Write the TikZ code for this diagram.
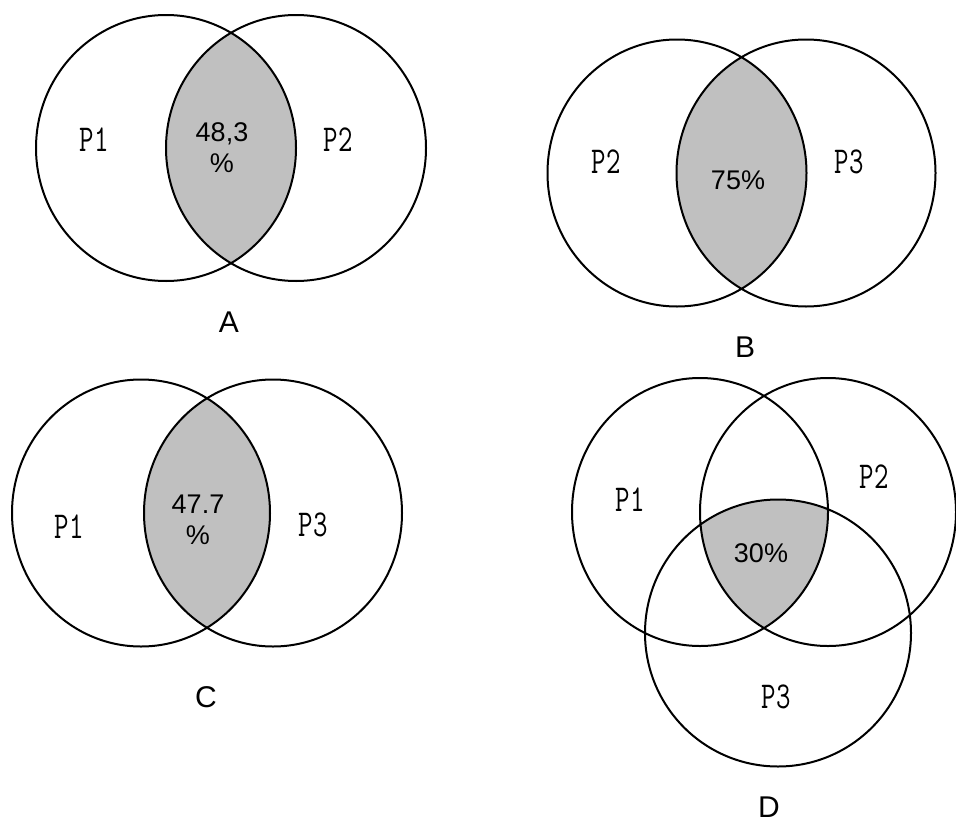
\documentclass[tikz,border=0pt]{standalone}
\usepackage{fontspec}
\setmainfont{Liberation Sans}
\usepackage{graphicx}
\definecolor{lens}{HTML}{C0C0C0}
\newcommand{\pset}[1]{\scalebox{0.74}[1]{#1}}

\begin{document}
\begin{tikzpicture}[x=1pt,y=-1pt]
    \tikzset{ring/.style={draw=black,line width=2pt}, pname/.style={font=\ttfamily\fontsize{38}{38}\selectfont,inner sep=0pt}, pct/.style={font=\fontsize{27}{31}\selectfont,align=center,inner sep=0pt}, ttl/.style={font=\fontsize{30}{30}\selectfont,inner sep=0pt}}
    \useasboundingbox (0,0) rectangle (956,827);
    % shaded overlaps
    \begin{scope} \clip (166,148) ellipse (130 and 133); \fill[lens] (296,148) ellipse (130 and 133); \end{scope}
    \begin{scope} \clip (677,173) ellipse (129.5 and 133.5); \fill[lens] (806,173) ellipse (129.5 and 133.5); \end{scope}
    \begin{scope} \clip (141,513) ellipse (129 and 133.5); \fill[lens] (273,513) ellipse (129 and 133.5); \end{scope}
    \begin{scope} \clip (700,512) ellipse (128 and 134); \clip (828,512) ellipse (128 and 134); \fill[lens] (778,633) ellipse (133 and 133.5); \end{scope}
    % circles
    \draw[ring] (166,148) ellipse (130 and 133) (296,148) ellipse (130 and 133);
    \draw[ring] (677,173) ellipse (129.5 and 133.5) (806,173) ellipse (129.5 and 133.5);
    \draw[ring] (141,513) ellipse (129 and 133.5) (273,513) ellipse (129 and 133.5);
    \draw[ring] (700,512) ellipse (128 and 134) (828,512) ellipse (128 and 134) (778,633) ellipse (133 and 133.5);
    % A
    \node[pname] (a1) at (94,140) {\pset{P1}};
    \node[pname] (a2) at (338,140) {\pset{P2}};
    \node[pct] (a12) at (222,148) {48,3\\\%};
    \node[ttl] (ta) at (229,322) {A};
    % B
    \node[pname] (b2) at (606,162) {\pset{P2}};
    \node[pname] (b3) at (849,162) {\pset{P3}};
    \node[pct] (b23) at (738,180) {75\%};
    \node[ttl] (tb) at (745,347) {B};
    % C
    \node[pname] (c1) at (69,527) {\pset{P1}};
    \node[pname] (c3) at (313,525) {\pset{P3}};
    \node[pct] (c13) at (198,520) {47.7\\\%};
    \node[ttl] (tc) at (206,697) {C};
    % D
    \node[pname] (d1) at (630,500) {\pset{P1}};
    \node[pname] (d2) at (874,477) {\pset{P2}};
    \node[pname] (d3) at (776,697) {\pset{P3}};
    \node[pct] (d123) at (761,553) {30\%};
    \node[ttl] (td) at (769,807) {D};
\end{tikzpicture}
\end{document}
